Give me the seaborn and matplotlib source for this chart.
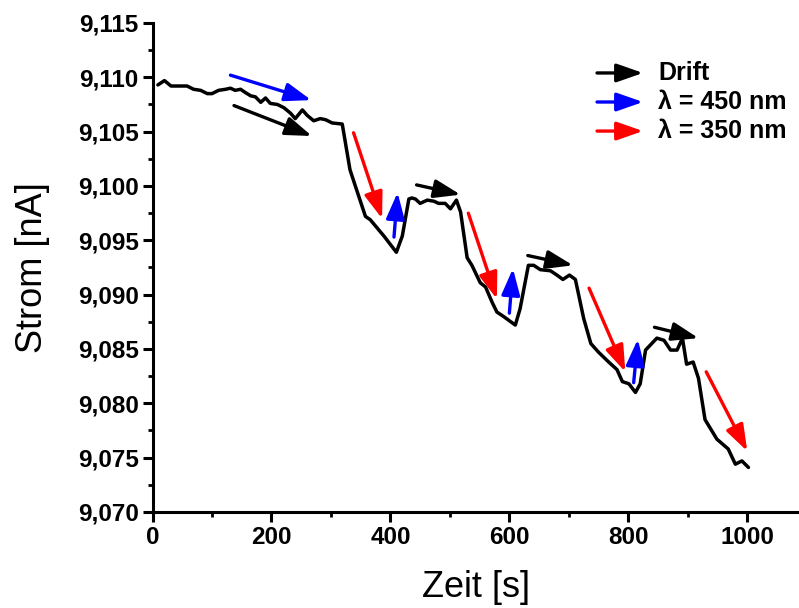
import matplotlib
matplotlib.use("Agg")
import matplotlib.pyplot as plt
import matplotlib.ticker as mticker
import pandas as pd
import seaborn as sns

# current trace
zeit = [9, 20, 31, 58, 69, 81, 92, 100, 111, 123,
        131, 139, 148, 156, 165, 173, 182, 190, 198, 210,
        221, 232, 240, 252, 260, 271, 282, 291, 302, 319,
        332, 341, 358, 366, 389, 410, 420, 431, 436, 442,
        450, 462, 473, 481, 492, 501, 511, 518, 529, 537,
        551, 560, 571, 579, 590, 610, 618, 632, 641, 652,
        669, 680, 690, 701, 711, 725, 737, 750, 767, 781,
        790, 801, 812, 820, 829, 848, 860, 871, 882, 891,
        898, 909, 918, 929, 949, 968, 980, 991, 1002]
strom = [9.1093, 9.1097, 9.1092, 9.1092, 9.1089, 9.1088, 9.1085, 9.1085, 9.1088, 9.1089,
         9.1090, 9.1088, 9.1089, 9.1086, 9.1083, 9.1082, 9.1077, 9.1081, 9.1076, 9.1075,
         9.1072, 9.1067, 9.1062, 9.1070, 9.1065, 9.1060, 9.1062, 9.1061, 9.1058, 9.1057,
         9.1015, 9.1000, 9.0972, 9.0969, 9.0954, 9.0939, 9.0954, 9.0988, 9.0989, 9.0988,
         9.0984, 9.0987, 9.0986, 9.0984, 9.0984, 9.0979, 9.0987, 9.0976, 9.0934, 9.0927,
         9.0911, 9.0907, 9.0893, 9.0884, 9.0880, 9.0872, 9.0887, 9.0927, 9.0927, 9.0923,
         9.0922, 9.0918, 9.0914, 9.0918, 9.0914, 9.0878, 9.0855, 9.0847, 9.0838, 9.0831,
         9.0820, 9.0818, 9.0810, 9.0818, 9.0849, 9.0860, 9.0858, 9.0849, 9.0849, 9.0860,
         9.0836, 9.0838, 9.0823, 9.0785, 9.0767, 9.0758, 9.0744, 9.0747, 9.0741]

# annotation arrows: (t_start, I_start, t_end, I_end)
drift_arrows = [(137, 9.1074, 268, 9.1046), (444, 9.1001, 518, 9.0992),
                (631, 9.0936, 707, 9.0927), (844, 9.0870, 918, 9.0860)]
blue_arrows = [(131, 9.1102, 267, 9.1079), (406, 9.0953, 412, 9.0994),
               (600, 9.0883, 606, 9.0924), (809, 9.0819, 816, 9.0859)]
red_arrows = [(338, 9.1049, 386, 9.0970), (531, 9.0975, 579, 9.0896),
              (734, 9.0906, 795, 9.0829), (931, 9.0829, 1000, 9.0756)]

legend_labels = ["Drift", "\u03bb = 450 nm", "\u03bb = 350 nm"]
arrow_colors = ["black", "#0000ff", "#ff0000"]

sns.set_style("ticks")
plt.rcParams["font.family"] = ["Liberation Sans", "DejaVu Sans"]
plt.rcParams["text.color"] = "black"
plt.rcParams["axes.labelcolor"] = "black"

fig = plt.figure(figsize=(7.99, 6.08), dpi=100)
ax = fig.add_axes([0.1909, 0.1579, 0.8091, 0.8043])

df = pd.DataFrame({"Zeit": zeit, "Strom": strom})
sns.lineplot(data=df, x="Zeit", y="Strom", color="black", lw=2.5, ax=ax)

astyle = "-|>,head_length=0.8,head_width=0.28"
for arrows, col in zip([drift_arrows, blue_arrows, red_arrows], arrow_colors):
    for x0, y0, x1, y1 in arrows:
        ax.annotate("", xy=(x1, y1), xytext=(x0, y0),
                    arrowprops=dict(arrowstyle=astyle, color=col, lw=2.4,
                                    mutation_scale=20, shrinkA=0, shrinkB=0))

# legend built from arrows + text
for k, (lab, col) in enumerate(zip(legend_labels, arrow_colors)):
    yy = 0.8978 - k * 0.0594
    ax.annotate("", xy=(0.7587, yy), xytext=(0.6876, yy), xycoords="axes fraction",
                arrowprops=dict(arrowstyle=astyle, color=col, lw=2.4,
                                mutation_scale=20, shrinkA=0, shrinkB=0))
    ax.text(0.7819, yy, lab, transform=ax.transAxes, ha="left", va="center",
            fontsize=18, fontweight="bold")

ax.set_xlim(0, 1087)
ax.set_ylim(9.070, 9.115)
ax.xaxis.set_major_locator(mticker.MultipleLocator(200))
ax.xaxis.set_minor_locator(mticker.MultipleLocator(100))
ax.yaxis.set_major_locator(mticker.MultipleLocator(0.005))
ax.yaxis.set_minor_locator(mticker.MultipleLocator(0.0025))
ax.yaxis.set_major_formatter(mticker.FuncFormatter(lambda v, p: f"{v:.3f}".replace(".", ",")))

sns.despine(ax=ax)
for s in ["left", "bottom"]:
    ax.spines[s].set_linewidth(2.2)
    ax.spines[s].set_color("black")
ax.tick_params(which="major", direction="out", length=7, width=2.2, pad=3,
               labelsize=17.5, colors="black")
ax.tick_params(which="minor", direction="out", length=3.5, width=2.0, colors="black")
for lbl in ax.get_xticklabels() + ax.get_yticklabels():
    lbl.set_fontweight("bold")

ax.set_xlabel("Zeit [s]", fontsize=26, labelpad=15)
ax.set_ylabel("Strom [nA]", fontsize=26, labelpad=20)

fig.savefig("out.png", dpi=100)
